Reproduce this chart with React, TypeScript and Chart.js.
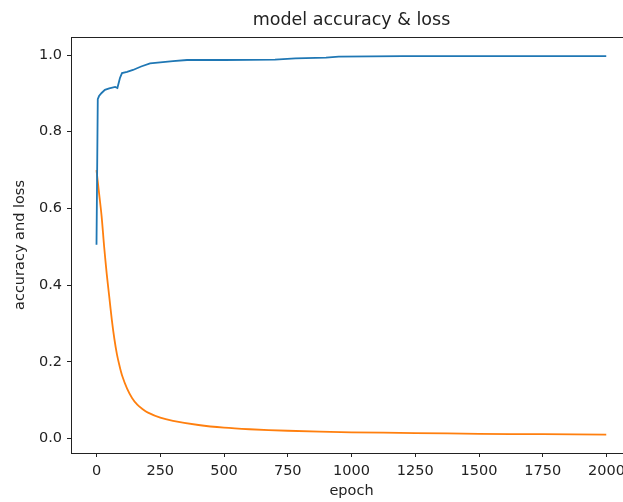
import React, { useEffect, useRef } from "react";
import { Chart, registerables } from "chart.js";

Chart.register(...registerables);

const titleText = "model accuracy & loss";
const xLabel = "epoch";
const yLabel = "accuracy and loss";

const xTicks = [0, 250, 500, 750, 1000, 1250, 1500, 1750, 2000];
const yTicks = [0.0, 0.2, 0.4, 0.6, 0.8, 1.0];

const accEpochs = [0, 5, 10, 20, 33, 50, 73, 82, 92, 100, 120, 143, 175, 210, 250, 300, 355, 500, 700, 780, 820, 900, 950, 1200, 1500, 1999];
const accuracy = [0.505, 0.885, 0.893, 0.901, 0.909, 0.913, 0.917, 0.914, 0.94, 0.953, 0.956, 0.961, 0.97, 0.978, 0.981, 0.984, 0.987, 0.987, 0.988, 0.991, 0.992, 0.993, 0.996, 0.997, 0.997, 0.997];

const lossEpochs = [0, 10, 20, 30, 40, 50, 60, 70, 80, 90, 100, 120, 140, 160, 180, 200, 250, 300, 400, 500, 600, 750, 1000, 1250, 1500, 1750, 1999];
const loss = [0.70, 0.64, 0.58, 0.50, 0.43, 0.37, 0.31, 0.26, 0.22, 0.19, 0.165, 0.13, 0.105, 0.088, 0.077, 0.068, 0.054, 0.046, 0.035, 0.028, 0.024, 0.020, 0.016, 0.014, 0.012, 0.011, 0.010];

const FONT = "'DejaVu Sans', sans-serif";
const INK = "#222222";

const framePlugin = {
  id: "frame",
  afterDraw(chart: any) {
    const { ctx, chartArea } = chart;
    ctx.save();
    ctx.strokeStyle = INK;
    ctx.lineWidth = 1;
    ctx.strokeRect(
      Math.round(chartArea.left) + 0.5,
      Math.round(chartArea.top) + 0.5,
      Math.round(chartArea.right - chartArea.left),
      Math.round(chartArea.bottom - chartArea.top)
    );
    ctx.fillStyle = INK;
    ctx.font = "normal 17.5px " + FONT;
    ctx.textAlign = "center";
    ctx.textBaseline = "middle";
    ctx.fillText(titleText, (chartArea.left + chartArea.right) / 2, 20);
    ctx.restore();
  },
};

export default function App() {
  const ref = useRef<HTMLCanvasElement | null>(null);

  useEffect(() => {
    if (!ref.current) return;
    const chart = new Chart(ref.current, {
      type: "line",
      data: {
        datasets: [
          {
            label: "accuracy",
            data: accEpochs.map((e, i) => ({ x: e, y: accuracy[i] })),
            borderColor: "#1f77b4",
            borderWidth: 1.8,
            pointRadius: 0,
            tension: 0,
            fill: false,
          },
          {
            label: "loss",
            data: lossEpochs.map((e, i) => ({ x: e, y: loss[i] })),
            borderColor: "#ff7f0e",
            borderWidth: 1.8,
            pointRadius: 0,
            tension: 0.3,
            fill: false,
          },
        ],
      },
      options: {
        animation: false,
        responsive: false,
        layout: { padding: { left: 0, right: 8, top: 37, bottom: 0 } },
        plugins: {
          legend: { display: false },
          tooltip: { enabled: false },
          title: { display: false },
        },
        scales: {
          x: {
            type: "linear",
            min: -100,
            max: 2100,
            afterFit: (s: any) => {
              s.height = 49;
            },
            afterBuildTicks: (s: any) => {
              s.ticks = xTicks.map((v) => ({ value: v }));
            },
            ticks: {
              color: INK,
              font: { family: FONT, size: 14.5 },
              padding: 6,
              maxRotation: 0,
              autoSkip: false,
              callback: (v: any) => String(v),
            },
            grid: {
              display: true,
              drawOnChartArea: false,
              drawTicks: true,
              tickLength: 4,
              tickColor: INK,
            },
            border: { display: true, color: INK, width: 1 },
            title: {
              display: true,
              text: xLabel,
              color: INK,
              font: { family: FONT, size: 14.5 },
              padding: { top: 0, bottom: 2 },
            },
          },
          y: {
            type: "linear",
            min: -0.038,
            max: 1.047,
            afterFit: (s: any) => {
              s.width = 71;
            },
            afterBuildTicks: (s: any) => {
              s.ticks = yTicks.map((v) => ({ value: v }));
            },
            ticks: {
              color: INK,
              font: { family: FONT, size: 14.5 },
              padding: 5,
              autoSkip: false,
              callback: (v: any) => Number(v).toFixed(1),
            },
            grid: {
              display: true,
              drawOnChartArea: false,
              drawTicks: true,
              tickLength: 4,
              tickColor: INK,
            },
            border: { display: true, color: INK, width: 1 },
            title: {
              display: true,
              text: yLabel,
              color: INK,
              font: { family: FONT, size: 14.5 },
              padding: { top: 12, bottom: 0 },
            },
          },
        },
      },
      plugins: [framePlugin],
    } as any);
    return () => chart.destroy();
  }, []);

  return (
    <div
      style={{
        position: "fixed",
        left: 0,
        top: 0,
        width: 623,
        height: 502,
        overflow: "hidden",
        background: "#ffffff",
      }}
    >
      <canvas ref={ref} width={640} height={502} style={{ width: 640, height: 502, display: "block" }} />
    </div>
  );
}
